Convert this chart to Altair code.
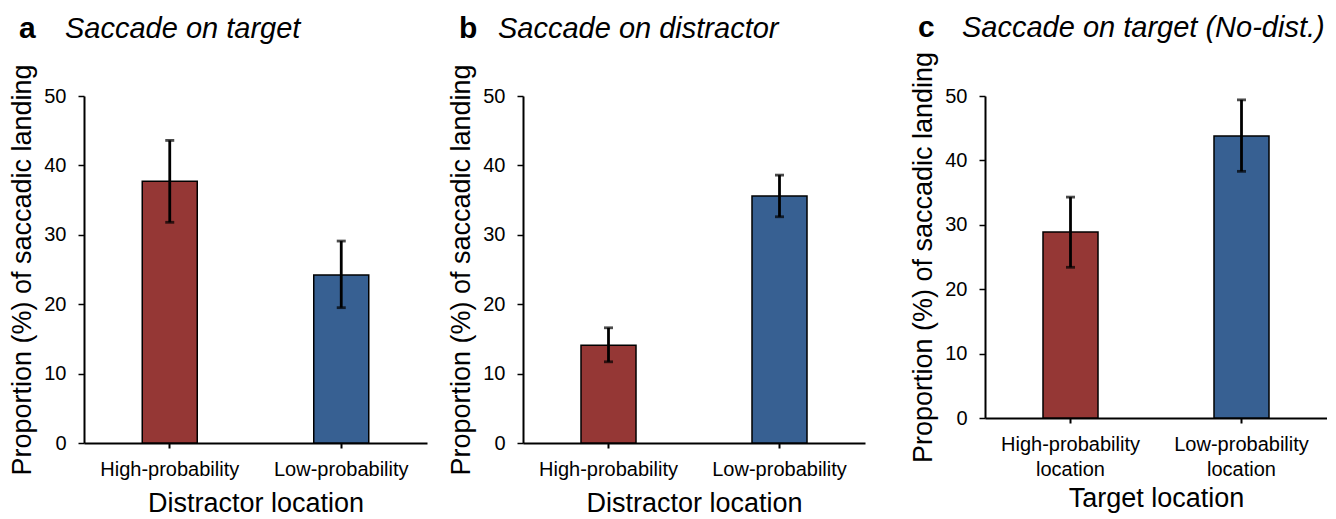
import altair as alt
import pandas as pd

# ---- data ----
cats_ab = ["High-probability", "Low-probability"]
cats_c = ["High-probability\nlocation", "Low-probability\nlocation"]

a_mean = [37.7, 24.2]
a_lo = [31.8, 19.5]
a_hi = [43.6, 29.1]

b_mean = [14.1, 35.6]
b_lo = [11.7, 32.6]
b_hi = [16.6, 38.6]

c_mean = [28.9, 43.8]
c_lo = [23.4, 38.3]
c_hi = [34.3, 49.4]

letters = ["a", "b", "c"]
titles = ["Saccade on target", "Saccade on distractor", "Saccade on target (No-dist.)"]
xtitles = ["Distractor location", "Distractor location", "Target location"]
ytitle = "Proportion (%) of saccadic landing"
yticks = [0, 10, 20, 30, 40, 50]

RED = "#953735"
BLUE = "#376092"
FONT = "Liberation Sans"


def panel(cats, mean, lo, hi, letter, title, xtitle, width, height,
          title_pad, letter_x, title_x, text_y):
    df = pd.DataFrame({"cat": cats, "mean": mean, "lo": lo, "hi": hi})
    x = alt.X(
        "cat:N",
        sort=cats,
        scale=alt.Scale(paddingInner=0, paddingOuter=0),
        axis=alt.Axis(
            title=xtitle, labelAngle=0, labelFontSize=20, labelColor="black",
            labelPadding=11, labelLineHeight=25,
            labelExpr="split(datum.label, '\\n')",
            titleFontSize=27, titleFontWeight="normal", titleColor="black",
            titlePadding=title_pad, domainColor="black", domainWidth=2,
            tickColor="black", tickSize=5, tickWidth=2, labelFont=FONT,
            titleFont=FONT,
        ),
    )
    y = alt.Y(
        "mean:Q",
        scale=alt.Scale(domain=[0, 50], nice=False),
        axis=alt.Axis(
            title=ytitle, values=yticks, grid=False, labelFontSize=20,
            labelColor="black", labelPadding=12, titleFontSize=27,
            titleFontWeight="normal", titleColor="black", titlePadding=7,
            domainColor="black", domainWidth=2, tickColor="black",
            tickSize=6, tickWidth=1.5, labelFont=FONT, titleFont=FONT,
        ),
    )
    base = alt.Chart(df)
    bars = base.mark_bar(size=55, stroke="black", strokeWidth=1.5).encode(
        x=x, y=y,
        color=alt.Color("cat:N", scale=alt.Scale(domain=cats, range=[RED, BLUE]), legend=None),
    )
    rules = base.mark_rule(color="black", strokeWidth=2.8).encode(
        x=alt.X("cat:N", sort=cats), y="lo:Q", y2="hi:Q"
    )
    cap_lo = base.mark_tick(color="black", size=9, thickness=2.8).encode(
        x=alt.X("cat:N", sort=cats), y="lo:Q"
    )
    cap_hi = base.mark_tick(color="black", size=9, thickness=2.8).encode(
        x=alt.X("cat:N", sort=cats), y="hi:Q"
    )
    tdf = pd.DataFrame({"letter": [letter], "title": [title]})
    tbase = alt.Chart(tdf)
    ltxt = tbase.mark_text(
        align="left", baseline="alphabetic", fontSize=30, fontWeight="bold",
        font=FONT, color="black",
    ).encode(text="letter:N", x=alt.value(letter_x), y=alt.value(text_y))
    ttxt = tbase.mark_text(
        align="left", baseline="alphabetic", fontSize=29, fontStyle="italic",
        font=FONT, color="black",
    ).encode(text="title:N", x=alt.value(title_x), y=alt.value(text_y))
    return alt.layer(bars, rules, cap_lo, cap_hi, ltxt, ttxt).properties(
        width=width, height=height
    )


pa = panel(cats_ab, a_mean, a_lo, a_hi, letters[0], titles[0], xtitles[0],
           343, 347, 11, -65, -19, -58)
pb = panel(cats_ab, b_mean, b_lo, b_hi, letters[1], titles[1], xtitles[1],
           342, 347, 11, -64, -25, -58)
pc = panel(cats_c, c_mean, c_lo, c_hi, letters[2], titles[2], xtitles[2],
           342, 322, 6, -67, -23, -59)

chart = alt.hconcat(alt.hconcat(pa, pb, spacing=20), pc, spacing=44).properties(
    padding={"left": 0, "top": 5, "right": 0, "bottom": 0}
).configure(font=FONT, view=alt.ViewConfig(stroke=None))

chart.save("out.html", embed_options={"renderer": "svg", "actions": False})
